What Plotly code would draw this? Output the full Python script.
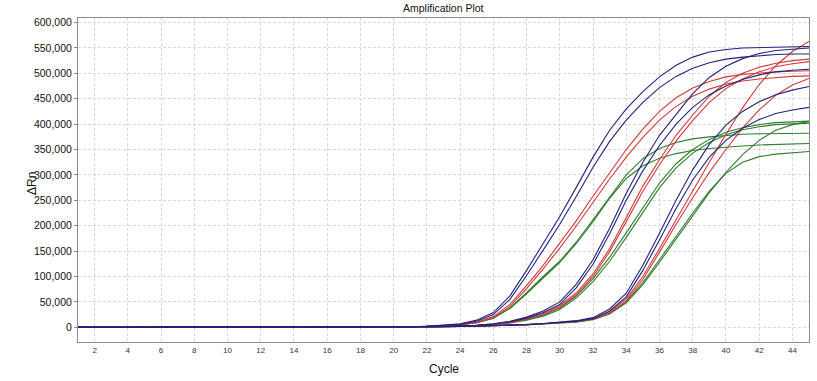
import plotly.graph_objects as go

cycles = list(range(1, 46))

# Delta Rn values in thousands, cycles 1..45
A_blue1 = [0, 0, 0, 0, 0, 0, 0, 0, 0, 0, 0, 0, 0, 0, 0, 0, 0, 0,
           0.3, 0.5, 1, 2, 4, 7, 14, 29, 62, 112, 165, 218, 276, 335, 388, 430, 464,
           493, 516, 532, 542, 547, 550, 551, 552, 553, 553]
A_blue2 = [0, 0, 0, 0, 0, 0, 0, 0, 0, 0, 0, 0, 0, 0, 0, 0, 0, 0,
           0.3, 0.5, 1, 2, 3.5, 6, 12, 25, 55, 102, 152, 203, 258, 315, 366, 408, 443,
           472, 494, 510, 521, 528, 532, 535, 537, 538, 538]
A_red1 = [0, 0, 0, 0, 0, 0, 0, 0, 0, 0, 0, 0, 0, 0, 0, 0, 0, 0,
          0.3, 0.5, 1, 2, 3, 5, 10, 21, 45, 82, 122, 165, 210, 258, 305, 350, 390,
          425, 452, 471, 484, 493, 498, 501, 503, 504, 505]
A_red2 = [0, 0, 0, 0, 0, 0, 0, 0, 0, 0, 0, 0, 0, 0, 0, 0, 0, 0,
          0.3, 0.5, 1, 2, 3, 5, 9, 19, 41, 76, 115, 156, 200, 246, 292, 335, 374,
          408, 435, 455, 469, 479, 485, 489, 492, 494, 495]
A_green1 = [0, 0, 0, 0, 0, 0, 0, 0, 0, 0, 0, 0, 0, 0, 0, 0, 0, 0,
            0.3, 0.5, 1, 1.8, 3, 5, 9, 18, 38, 68, 100, 130, 168, 212, 258, 300, 332,
            352, 364, 371, 375, 378, 380, 381, 381, 382, 382]
A_green2 = [0, 0, 0, 0, 0, 0, 0, 0, 0, 0, 0, 0, 0, 0, 0, 0, 0, 0,
            0.3, 0.5, 1, 1.8, 3, 5, 9, 18, 37, 66, 97, 128, 165, 208, 254, 293, 318,
            333, 342, 348, 352, 355, 357, 359, 360, 361, 362]

B_blue1 = [0, 0, 0, 0, 0, 0, 0, 0, 0, 0, 0, 0, 0, 0, 0, 0, 0, 0,
           0.2, 0.4, 0.6, 1, 1.5, 2.5, 4, 7, 12, 20, 32, 50, 85, 133, 195, 264, 325,
           378, 420, 460, 492, 514, 529, 539, 545, 548, 550]
B_blue2 = [0, 0, 0, 0, 0, 0, 0, 0, 0, 0, 0, 0, 0, 0, 0, 0, 0, 0,
           0.2, 0.4, 0.6, 1, 1.5, 2.5, 3.8, 6.5, 11, 18, 29, 45, 78, 124, 184, 250, 308,
           358, 400, 433, 458, 475, 488, 497, 503, 506, 508]
B_red1 = [0, 0, 0, 0, 0, 0, 0, 0, 0, 0, 0, 0, 0, 0, 0, 0, 0, 0,
          0.2, 0.4, 0.6, 1, 1.5, 2.4, 3.6, 6, 10, 17, 27, 43, 68, 105, 155, 216, 278,
          330, 378, 418, 455, 482, 500, 512, 520, 525, 528]
B_red2 = [0, 0, 0, 0, 0, 0, 0, 0, 0, 0, 0, 0, 0, 0, 0, 0, 0, 0,
          0.2, 0.4, 0.6, 1, 1.5, 2.3, 3.5, 5.8, 9.5, 16, 25, 40, 64, 100, 149, 208, 268,
          320, 367, 407, 443, 470, 489, 503, 513, 519, 523]
B_green1 = [0, 0, 0, 0, 0, 0, 0, 0, 0, 0, 0, 0, 0, 0, 0, 0, 0, 0,
            0.2, 0.4, 0.6, 1, 1.5, 2.2, 3.4, 5.6, 9, 15, 24, 38, 62, 96, 138, 186, 236,
            284, 322, 350, 370, 384, 393, 399, 403, 405, 406]
B_green2 = [0, 0, 0, 0, 0, 0, 0, 0, 0, 0, 0, 0, 0, 0, 0, 0, 0, 0,
            0.2, 0.4, 0.6, 1, 1.5, 2.1, 3.2, 5.3, 8.5, 14, 22, 35, 58, 90, 130, 177, 227,
            275, 314, 343, 364, 379, 389, 395, 399, 401, 402]

C_blue1 = [0, 0, 0, 0, 0, 0, 0, 0, 0, 0, 0, 0, 0, 0, 0, 0, 0, 0,
           0.2, 0.3, 0.5, 0.8, 1.2, 1.7, 2.3, 3, 4, 5.5, 7.5, 10, 13, 19, 36, 67, 122,
           185, 250, 310, 360, 398, 425, 444, 458, 467, 474]
C_blue2 = [0, 0, 0, 0, 0, 0, 0, 0, 0, 0, 0, 0, 0, 0, 0, 0, 0, 0,
           0.2, 0.3, 0.5, 0.8, 1.2, 1.6, 2.2, 2.9, 3.8, 5.2, 7, 9.5, 12, 17, 32, 60, 112,
           172, 234, 290, 335, 368, 392, 409, 421, 428, 433]
C_red1 = [0, 0, 0, 0, 0, 0, 0, 0, 0, 0, 0, 0, 0, 0, 0, 0, 0, 0,
          0.2, 0.3, 0.5, 0.8, 1.1, 1.6, 2.2, 2.9, 3.8, 5.2, 7, 9.5, 12, 17, 30, 56, 100,
          155, 212, 268, 325, 380, 432, 478, 515, 543, 563]
C_red2 = [0, 0, 0, 0, 0, 0, 0, 0, 0, 0, 0, 0, 0, 0, 0, 0, 0, 0,
          0.2, 0.3, 0.5, 0.8, 1.1, 1.5, 2.1, 2.8, 3.6, 5, 6.8, 9, 11, 16, 28, 52, 94,
          148, 203, 255, 305, 350, 392, 428, 457, 477, 490]
C_green1 = [0, 0, 0, 0, 0, 0, 0, 0, 0, 0, 0, 0, 0, 0, 0, 0, 0, 0,
            0.2, 0.3, 0.5, 0.7, 1, 1.4, 2, 2.7, 3.5, 4.8, 6.5, 8.5, 10, 15, 26, 48, 84,
            128, 174, 220, 265, 305, 340, 368, 388, 399, 405]
C_green2 = [0, 0, 0, 0, 0, 0, 0, 0, 0, 0, 0, 0, 0, 0, 0, 0, 0, 0,
            0.2, 0.3, 0.5, 0.7, 1, 1.4, 2, 2.7, 3.6, 5, 6.8, 9, 11, 16, 27, 50, 88,
            133, 180, 225, 268, 303, 325, 336, 341, 344, 346]

x_tick_vals = list(range(2, 46, 2))
y_tick_vals = [0, 50000, 100000, 150000, 200000, 250000, 300000,
               350000, 400000, 450000, 500000, 550000, 600000]
y_tick_text = ["0", "50,000", "100,000", "150,000", "200,000", "250,000", "300,000",
               "350,000", "400,000", "450,000", "500,000", "550,000", "600,000"]

BLUE = "#22227e"
RED = "#d33a3a"
GREEN = "#2f7d2f"

series = [
    (A_green1, GREEN), (A_green2, GREEN), (B_green1, GREEN), (B_green2, GREEN),
    (C_green1, GREEN), (C_green2, GREEN),
    (A_red1, RED), (A_red2, RED), (B_red1, RED), (B_red2, RED),
    (C_red1, RED), (C_red2, RED),
    (A_blue1, BLUE), (A_blue2, BLUE), (B_blue1, BLUE), (B_blue2, BLUE),
    (C_blue1, BLUE), (C_blue2, BLUE),
]

fig = go.Figure()
for vals, col in series:
    fig.add_trace(go.Scatter(
        x=cycles, y=[v * 1000 for v in vals], mode="lines",
        line=dict(color=col, width=1.1), showlegend=False, hoverinfo="skip"))

FONT = "Liberation Sans, Arial, sans-serif"
grid = dict(showgrid=True, gridcolor="#d9d9d9", griddash="3px,2px", gridwidth=1)

fig.update_layout(
    width=817, height=381,
    margin=dict(l=78, r=8, t=18, b=39),
    paper_bgcolor="white", plot_bgcolor="white",
    font=dict(family=FONT, color="#111"),
    xaxis=dict(range=[1, 45], tickvals=x_tick_vals, ticks="",
               tickfont=dict(size=8, color="#333"),
               showline=True, linecolor="#8c8c8c", linewidth=1, mirror=True,
               zeroline=False, automargin=False, **grid),
    yaxis=dict(range=[-29000, 609000], tickvals=y_tick_vals, ticktext=y_tick_text,
               ticks="outside", ticklen=3, tickcolor="#888",
               tickfont=dict(size=10.5, color="#111"),
               showline=True, linecolor="#8c8c8c", linewidth=1, mirror=True,
               zeroline=False, automargin=False, **grid),
    annotations=[
        dict(text="Amplification Plot", x=0.5, y=1, xref="paper", yref="paper",
             xanchor="center", yanchor="middle", yshift=10, showarrow=False,
             font=dict(size=10.5, color="#111")),
        dict(text="Cycle", x=0.5, y=0, xref="paper", yref="paper",
             xanchor="center", yanchor="middle", yshift=-27, showarrow=False,
             font=dict(size=12, color="#111")),
        dict(text="ΔRn", x=0, y=0.5, xref="paper", yref="paper",
             xanchor="center", yanchor="middle", xshift=-46, yshift=-4,
             textangle=-90, showarrow=False, font=dict(size=12, color="#111")),
    ],
)

fig.write_html("out.html", config={"displayModeBar": False},
               post_script="document.body.style.margin='0';"
                           "document.body.style.overflow='hidden';")
